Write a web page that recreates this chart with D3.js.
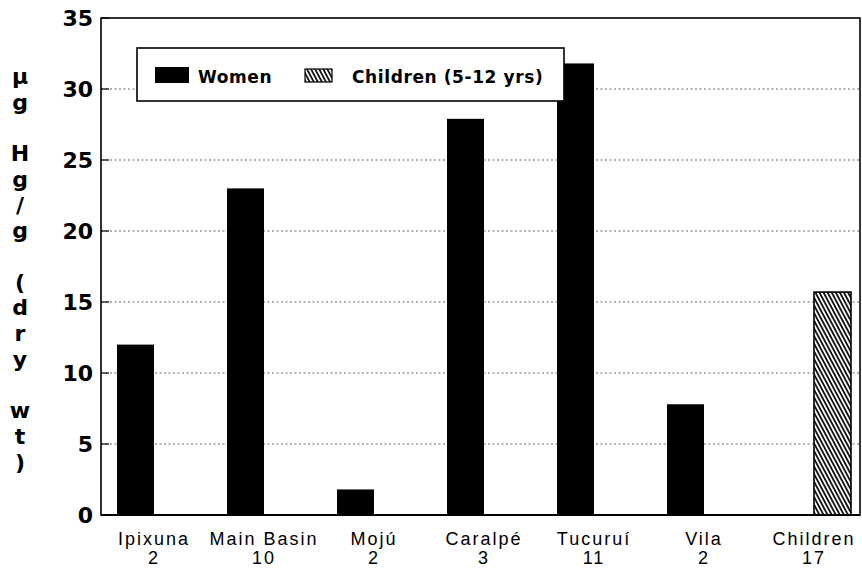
<!DOCTYPE html>
<html>
<head>
<meta charset="utf-8">
<script src="https://cdn.jsdelivr.net/npm/d3@7"></script>
<style>
  body { margin: 0; background: #fff; }
  svg { display: block; }
</style>
</head>
<body>
<div id="chart"></div>
<script>
// Data
const categories = ["Ipixuna", "Main Basin", "Mojú", "Caralpé", "Tucuruí", "Vila", "Children"];
const counts = ["2", "10", "2", "3", "11", "2", "17"];
const women = [12, 23, 1.8, 27.9, 31.8, 7.8, null];
const children = [null, null, null, null, null, null, 15.7];
const series = ["Women", "Children"];
const yTicks = [0, 5, 10, 15, 20, 25, 30, 35];
const yLabel = ["µ", "g", "", "H", "g", "/", "g", "", "(", "d", "r", "y", "", "w", "t", ")"];

const width = 862, height = 568;
const frame = { left: 101, right: 860, top: 18, bottom: 515 };
const boldFont = "'DejaVu Sans', sans-serif";

const svg = d3.select("#chart").append("svg")
    .attr("width", width)
    .attr("height", height);

// hatch pattern for the children bar
svg.append("defs").append("pattern")
    .attr("id", "hatch")
    .attr("patternUnits", "userSpaceOnUse")
    .attr("width", 3.6)
    .attr("height", 10)
    .attr("patternTransform", "rotate(-28)")
  .call(p => p.append("rect").attr("width", 3.6).attr("height", 10).attr("fill", "#fff"))
  .append("line")
    .attr("x1", 1).attr("x2", 1)
    .attr("y1", 0).attr("y2", 10)
    .attr("stroke", "#000")
    .attr("stroke-width", 1.7);

const x = d3.scaleBand()
    .domain(categories)
    .range([117, 851])
    .paddingInner(1 - 74 / 110)
    .paddingOuter(0);

const xSub = d3.scaleBand()
    .domain(series)
    .range([0, x.bandwidth()]);

const y = d3.scaleLinear()
    .domain([0, 35])
    .range([frame.bottom, frame.top]);

// dotted grid lines
svg.append("g")
  .selectAll("line")
  .data(yTicks.filter(d => d > 0 && d < 35))
  .join("line")
    .attr("x1", frame.left)
    .attr("x2", frame.right)
    .attr("y1", d => y(d))
    .attr("y2", d => y(d))
    .attr("stroke", "#555")
    .attr("stroke-width", 0.9)
    .attr("stroke-dasharray", "2,2.5");

// inward tick marks
svg.append("g")
  .selectAll("line")
  .data(yTicks)
  .join("line")
    .attr("x1", frame.left)
    .attr("x2", frame.left + 8)
    .attr("y1", d => y(d))
    .attr("y2", d => y(d))
    .attr("stroke", "#000")
    .attr("stroke-width", 1.2);

// tick labels
svg.append("g")
    .attr("font-family", boldFont)
    .attr("font-weight", "bold")
    .attr("font-size", 22)
    .attr("text-anchor", "end")
  .selectAll("text")
  .data(yTicks)
  .join("text")
    .attr("x", 93)
    .attr("y", d => y(d))
    .attr("dy", "0.36em")
    .text(d => d);

// bars
const rows = categories.map((c, i) => ({ cat: c, Women: women[i], Children: children[i] }));

svg.append("g")
  .selectAll("g")
  .data(rows)
  .join("g")
    .attr("transform", d => `translate(${x(d.cat)},0)`)
  .selectAll("rect")
  .data(d => series.filter(s => d[s] != null).map(s => ({ key: s, value: d[s] })))
  .join("rect")
    .attr("x", d => xSub(d.key))
    .attr("width", xSub.bandwidth())
    .attr("y", d => y(d.value))
    .attr("height", d => y(0) - y(d.value))
    .attr("fill", d => d.key === "Women" ? "#000" : "url(#hatch)")
    .attr("stroke", "#000")
    .attr("stroke-width", d => d.key === "Women" ? 0 : 1.6);

// frame
svg.append("rect")
    .attr("x", frame.left)
    .attr("y", frame.top)
    .attr("width", frame.right - frame.left)
    .attr("height", frame.bottom - frame.top)
    .attr("fill", "none")
    .attr("stroke", "#000")
    .attr("stroke-width", 1.6);

svg.append("line")
    .attr("x1", frame.left).attr("x2", frame.right)
    .attr("y1", frame.bottom).attr("y2", frame.bottom)
    .attr("stroke", "#000")
    .attr("stroke-width", 2.2);

// category labels, two lines each
const xl = svg.append("g")
    .attr("font-family", "'Liberation Sans', Arial, sans-serif")
    .attr("font-size", 18)
    .attr("letter-spacing", 2)
    .attr("text-anchor", "middle");

xl.selectAll("text.cat")
  .data(categories)
  .join("text")
    .attr("class", "cat")
    .attr("x", d => x(d) + x.bandwidth() / 2)
    .attr("y", 545)
    .text(d => d);

xl.selectAll("text.n")
  .data(categories)
  .join("text")
    .attr("class", "n")
    .attr("x", d => x(d) + x.bandwidth() / 2)
    .attr("y", 564)
    .text((d, i) => counts[i]);

// y axis title, stacked letters
svg.append("g")
    .attr("font-family", boldFont)
    .attr("font-weight", "bold")
    .attr("font-size", 22)
    .attr("text-anchor", "middle")
  .selectAll("text")
  .data(yLabel)
  .join("text")
    .attr("x", 20)
    .attr("y", (d, i) => 84 + i * 25.7)
    .text(d => d);

// legend
const legend = svg.append("g");
legend.append("rect")
    .attr("x", 137).attr("y", 48)
    .attr("width", 427).attr("height", 53)
    .attr("fill", "#fff")
    .attr("stroke", "#000")
    .attr("stroke-width", 1.6);

legend.append("rect")
    .attr("x", 155).attr("y", 67)
    .attr("width", 34).attr("height", 16)
    .attr("fill", "#000");

legend.append("rect")
    .attr("x", 305).attr("y", 69)
    .attr("width", 27).attr("height", 13)
    .attr("fill", "url(#hatch)")
    .attr("stroke", "#000")
    .attr("stroke-width", 1.2);

legend.selectAll("text")
  .data([{ t: "Women", x: 198 }, { t: "Children (5-12 yrs)", x: 352 }])
  .join("text")
    .attr("x", d => d.x)
    .attr("y", 83)
    .attr("font-family", boldFont)
    .attr("font-weight", "bold")
    .attr("font-size", 17)
    .attr("letter-spacing", 0.6)
    .text(d => d.t);
</script>
</body>
</html>
